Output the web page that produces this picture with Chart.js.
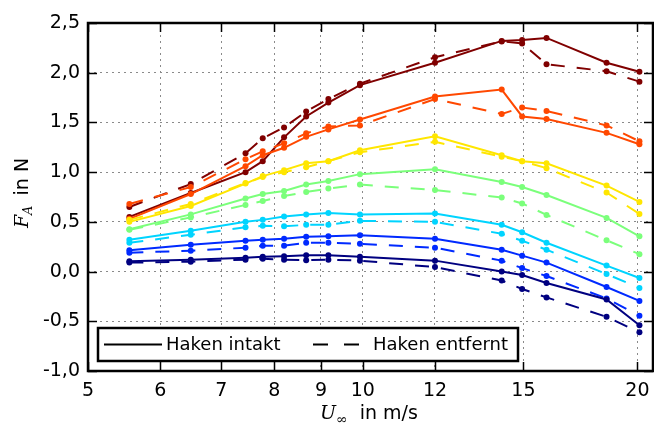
<!DOCTYPE html>
<html>
<head>
<meta charset="utf-8">
<script src="https://cdn.jsdelivr.net/npm/chart.js@4.4.1/dist/chart.umd.min.js"></script>
<style>
  html, body { margin: 0; padding: 0; background: #fff; }
  #wrap { width: 654px; height: 425px; position: relative; }
</style>
</head>
<body>
<div id="wrap"><canvas id="chart"></canvas></div>
<script>
// flow speed U in m/s (x positions of the measurements)
const speeds = [5.55, 6.48, 7.44, 7.77, 8.2, 8.67, 9.17, 9.93, 12.0, 14.2, 14.95, 15.9, 18.5, 20.1];

// F_A in N, solid = Haken intakt, dashed = Haken entfernt
const navySolid   = [0.105, 0.12, 0.14, 0.15, 0.155, 0.165, 0.165, 0.15, 0.11, 0.0, -0.035, -0.115, -0.28, -0.54];
const navyDashed  = [0.09, 0.10, 0.12, 0.13, 0.12, 0.115, 0.12, 0.11, 0.045, -0.09, -0.175, -0.26, -0.455, -0.61];
const blueSolid   = [0.215, 0.27, 0.31, 0.32, 0.33, 0.35, 0.355, 0.365, 0.33, 0.22, 0.16, 0.09, -0.155, -0.295];
const blueDashed  = [0.19, 0.21, 0.24, 0.26, 0.26, 0.29, 0.29, 0.28, 0.24, 0.11, 0.035, -0.045, -0.27, -0.445];
const cyanSolid   = [0.32, 0.41, 0.50, 0.52, 0.555, 0.575, 0.59, 0.575, 0.585, 0.47, 0.395, 0.29, 0.06, -0.065];
const cyanDashed  = [0.29, 0.37, 0.445, 0.46, 0.455, 0.47, 0.47, 0.51, 0.50, 0.38, 0.31, 0.22, -0.025, -0.165];
const greenSolid  = [0.425, 0.575, 0.735, 0.78, 0.81, 0.875, 0.91, 0.98, 1.03, 0.90, 0.85, 0.77, 0.54, 0.355];
const greenDashed = [0.42, 0.545, 0.67, 0.71, 0.76, 0.80, 0.835, 0.875, 0.82, 0.745, 0.685, 0.57, 0.315, 0.175];
const yellowSolid = [0.50, 0.66, 0.885, 0.96, 1.02, 1.09, 1.11, 1.22, 1.36, 1.17, 1.11, 1.09, 0.865, 0.70];
const yellowDashed= [0.52, 0.68, 0.89, 0.95, 1.00, 1.05, 1.11, 1.20, 1.305, 1.155, 1.11, 1.04, 0.795, 0.58];
const orangeSolid = [0.53, 0.78, 1.06, 1.17, 1.245, 1.355, 1.43, 1.53, 1.76, 1.83, 1.56, 1.535, 1.395, 1.28];
const orangeDashed= [0.68, 0.85, 1.13, 1.21, 1.29, 1.39, 1.46, 1.47, 1.735, 1.585, 1.65, 1.615, 1.47, 1.31];
const redSolid    = [0.55, 0.79, 1.00, 1.11, 1.35, 1.56, 1.70, 1.875, 2.10, 2.32, 2.33, 2.35, 2.10, 2.01];
const redDashed   = [0.65, 0.88, 1.19, 1.34, 1.45, 1.61, 1.735, 1.89, 2.155, 2.315, 2.295, 2.085, 2.015, 1.91];

// axis ticks
const xTicks = [5, 6, 7, 8, 9, 10, 12, 15, 20];
const yTicks = [-1.0, -0.5, 0.0, 0.5, 1.0, 1.5, 2.0, 2.5];

const legendLabels = ['Haken intakt', 'Haken entfernt'];

// jet colours, one per pair
const pairs = [
  ['#000080', navySolid, navyDashed],
  ['#002aff', blueSolid, blueDashed],
  ['#00d4ff', cyanSolid, cyanDashed],
  ['#7bff7b', greenSolid, greenDashed],
  ['#ffe600', yellowSolid, yellowDashed],
  ['#ff4800', orangeSolid, orangeDashed],
  ['#800000', redSolid, redDashed]
];

const toPts = arr => arr.map((v, i) => ({ x: speeds[i], y: v }));

const datasets = [];
pairs.forEach(([col, solid, dashed]) => {
  datasets.push({
    data: toPts(solid), borderColor: col, backgroundColor: col,
    borderWidth: 2, pointRadius: 3, pointBorderWidth: 0, tension: 0
  });
  datasets.push({
    data: toPts(dashed), borderColor: col, backgroundColor: col,
    borderWidth: 2, borderDash: [14, 12], pointRadius: 3, pointBorderWidth: 0, tension: 0
  });
});

const SANS = '"DejaVu Sans", sans-serif';
const SERIF = '"DejaVu Serif", serif';

// frame, inward ticks, legend box and axis titles
const framePlugin = {
  id: 'frame',
  afterDraw(chart) {
    const { ctx, chartArea: a, scales: { x, y } } = chart;
    ctx.save();
    ctx.strokeStyle = '#000';
    ctx.lineWidth = 1.5;
    xTicks.forEach(v => {
      const px = Math.round(x.getPixelForValue(v)) + 0.5;
      ctx.beginPath();
      ctx.moveTo(px, a.bottom); ctx.lineTo(px, a.bottom - 9);
      ctx.moveTo(px, a.top); ctx.lineTo(px, a.top + 9);
      ctx.stroke();
    });
    yTicks.forEach(v => {
      const py = Math.round(y.getPixelForValue(v)) + 0.5;
      ctx.beginPath();
      ctx.moveTo(a.left, py); ctx.lineTo(a.left + 9, py);
      ctx.moveTo(a.right, py); ctx.lineTo(a.right - 9, py);
      ctx.stroke();
    });
    ctx.lineWidth = 2.5;
    ctx.strokeRect(a.left, a.top, a.right - a.left, a.bottom - a.top);

    // legend
    const lx = 98, ly = 328, lw = 420, lh = 33;
    ctx.fillStyle = '#fff';
    ctx.fillRect(lx, ly, lw, lh);
    ctx.lineWidth = 2.5;
    ctx.strokeRect(lx, ly, lw, lh);
    const my = ly + lh / 2;
    ctx.lineWidth = 2;
    ctx.beginPath(); ctx.moveTo(104, my); ctx.lineTo(162, my); ctx.stroke();
    ctx.setLineDash([15, 16]);
    ctx.beginPath(); ctx.moveTo(313, my); ctx.lineTo(360, my); ctx.stroke();
    ctx.setLineDash([]);
    ctx.fillStyle = '#000';
    ctx.font = '18px ' + SANS;
    ctx.textBaseline = 'middle';
    ctx.textAlign = 'left';
    ctx.fillText(legendLabels[0], 166, my + 1);
    ctx.fillText(legendLabels[1], 373, my + 1);

    // x title: U_inf in m/s
    ctx.textBaseline = 'alphabetic';
    let cx = 320;
    const by = 419;
    ctx.font = 'italic 19px ' + SERIF;
    ctx.fillText('U', cx, by);
    cx += ctx.measureText('U').width;
    ctx.font = '14px ' + SERIF;
    ctx.fillText('\u221e', cx, by + 5);
    cx += ctx.measureText('\u221e').width + 12;
    ctx.font = '19px ' + SANS;
    ctx.fillText('in m/s', cx, by);

    // y title: F_A in N
    ctx.save();
    ctx.translate(28, 193);
    ctx.rotate(-Math.PI / 2);
    ctx.font = 'italic 19px ' + SERIF;
    const wF = ctx.measureText('F').width;
    ctx.font = 'italic 13px ' + SERIF;
    const wA = ctx.measureText('A').width;
    ctx.font = '19px ' + SANS;
    const wT = ctx.measureText(' in N').width;
    let tx = -(wF + wA + 4 + wT) / 2;
    ctx.font = 'italic 19px ' + SERIF;
    ctx.fillText('F', tx, 0);
    tx += wF;
    ctx.font = 'italic 13px ' + SERIF;
    ctx.fillText('A', tx, 4);
    tx += wA + 4;
    ctx.font = '19px ' + SANS;
    ctx.fillText(' in N', tx, 0);
    ctx.restore();

    ctx.restore();
  }
};

new Chart(document.getElementById('chart'), {
  type: 'line',
  data: { datasets },
  options: {
    responsive: true,
    maintainAspectRatio: false,
    animation: false,
    layout: { autoPadding: false, padding: { top: 23, right: 1, left: 0, bottom: 0 } },
    plugins: { legend: { display: false }, tooltip: { enabled: false } },
    scales: {
      x: {
        type: 'logarithmic',
        min: 5, max: 20.8,
        afterBuildTicks: s => { s.ticks = xTicks.map(v => ({ value: v })); },
        afterFit: s => { s.height = 54; s.paddingLeft = 0; s.paddingRight = 0; },
        grid: { color: '#8a8a8a', drawTicks: false, lineWidth: 1 },
        border: { display: false, dash: [2, 4] },
        ticks: {
          autoSkip: false, maxRotation: 0, padding: 9,
          color: '#000', font: { family: SANS, size: 19 },
          callback: v => String(v)
        }
      },
      y: {
        type: 'linear',
        min: -1.0, max: 2.5,
        afterBuildTicks: s => { s.ticks = yTicks.map(v => ({ value: v })); },
        afterFit: s => { s.width = 88; s.paddingTop = 0; s.paddingBottom = 0; },
        grid: { color: '#8a8a8a', drawTicks: false, lineWidth: 1 },
        border: { display: false, dash: [2, 4] },
        ticks: {
          padding: 8, color: '#000', font: { family: SANS, size: 19 },
          callback: v => v.toFixed(1).replace('.', ',')
        }
      }
    }
  },
  plugins: [framePlugin]
});
</script>
</body>
</html>
